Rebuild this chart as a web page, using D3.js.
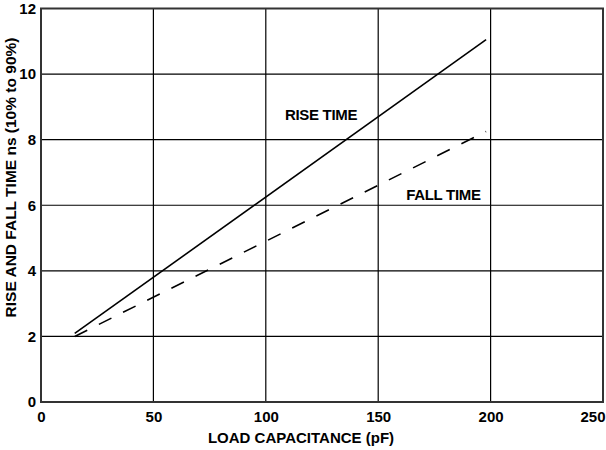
<!DOCTYPE html>
<html><head><meta charset="utf-8">
<script src="https://cdn.jsdelivr.net/npm/d3@7"></script>
<style>
body{margin:0;background:#fff;}
text{font-family:"Liberation Sans",Arial,Helvetica,sans-serif;font-weight:bold;fill:#000;}
</style></head>
<body><svg id="c" width="606" height="450"></svg>
<script>
const xTicks = [0, 50, 100, 150, 200, 250];
const yTicks = [0, 2, 4, 6, 8, 10, 12];
const loadCap = [15, 198];
const riseTime = [2.09, 11.05];
const fallTime = [2.0, 8.25];
const seriesLabels = ["RISE TIME", "FALL TIME"];
const xTitle = "LOAD CAPACITANCE (pF)";
const yTitle = "RISE AND FALL TIME ns (10% to 90%)";

const svg = d3.select("#c");
const x = d3.scaleLinear().domain([0, 250]).range([41, 603]);
const y = d3.scaleLinear().domain([0, 12]).range([402, 8.5]);

// grid
svg.append("g").selectAll("line").data(xTicks.slice(1, -1)).join("line")
  .attr("x1", d => x(d)).attr("x2", d => x(d)).attr("y1", y(0)).attr("y2", y(12))
  .attr("stroke", "#000").attr("stroke-width", 1.2);
svg.append("g").selectAll("line").data(yTicks.slice(1, -1)).join("line")
  .attr("y1", d => y(d)).attr("y2", d => y(d)).attr("x1", x(0)).attr("x2", x(250))
  .attr("stroke", "#000").attr("stroke-width", 1.2);
// frame
svg.append("rect").attr("x", x(0)).attr("y", y(12)).attr("width", x(250) - x(0)).attr("height", y(0) - y(12))
  .attr("fill", "none").attr("stroke", "#333").attr("stroke-width", 2);

// axes labels via d3 axes
const xAxis = svg.append("g").attr("transform", `translate(0,${y(0)})`)
  .call(d3.axisBottom(x).tickValues(xTicks).tickSize(0).tickPadding(9));
xAxis.select(".domain").remove();
xAxis.selectAll("text").style("font-size", "15px").attr("fill", "#000");
// keep last label inside the picture
xAxis.selectAll(".tick").filter(d => d === 250).select("text")
  .attr("text-anchor", "end").attr("x", 605 - x(250));
const yAxis = svg.append("g").attr("transform", `translate(${x(0)},0)`)
  .call(d3.axisLeft(y).tickValues(yTicks).tickSize(0).tickPadding(5));
yAxis.select(".domain").remove();
yAxis.selectAll("text").style("font-size", "15px").attr("fill", "#000");

// lines
const line = d3.line().x(d => x(d[0])).y(d => y(d[1]));
svg.append("path").datum(loadCap.map((v, i) => [v, riseTime[i]])).attr("d", line)
  .attr("fill", "none").attr("stroke", "#000").attr("stroke-width", 1.6);
svg.append("path").datum(loadCap.map((v, i) => [v, fallTime[i]])).attr("d", line)
  .attr("fill", "none").attr("stroke", "#000").attr("stroke-width", 1.6)
  .attr("stroke-dasharray", "14,13");

// series labels
svg.append("text").attr("x", x(124.6)).attr("y", y(8.78)).attr("text-anchor", "middle")
  .attr("dominant-baseline", "central").style("font-size", "15px").style("letter-spacing", "-0.3px").text(seriesLabels[0]);
svg.append("text").attr("x", x(195.6)).attr("y", y(6.34)).attr("text-anchor", "end")
  .attr("dominant-baseline", "central").style("font-size", "15px").style("letter-spacing", "-0.3px").text(seriesLabels[1]);

// titles
svg.append("text").attr("x", 301).attr("y", 437).attr("text-anchor", "middle")
  .attr("dominant-baseline", "central").style("font-size", "15px").text(xTitle);
svg.append("text").attr("transform", "translate(10,177.5) rotate(-90)").attr("text-anchor", "middle")
  .attr("dominant-baseline", "central").style("font-size", "15.5px").text(yTitle);
</script></body></html>
